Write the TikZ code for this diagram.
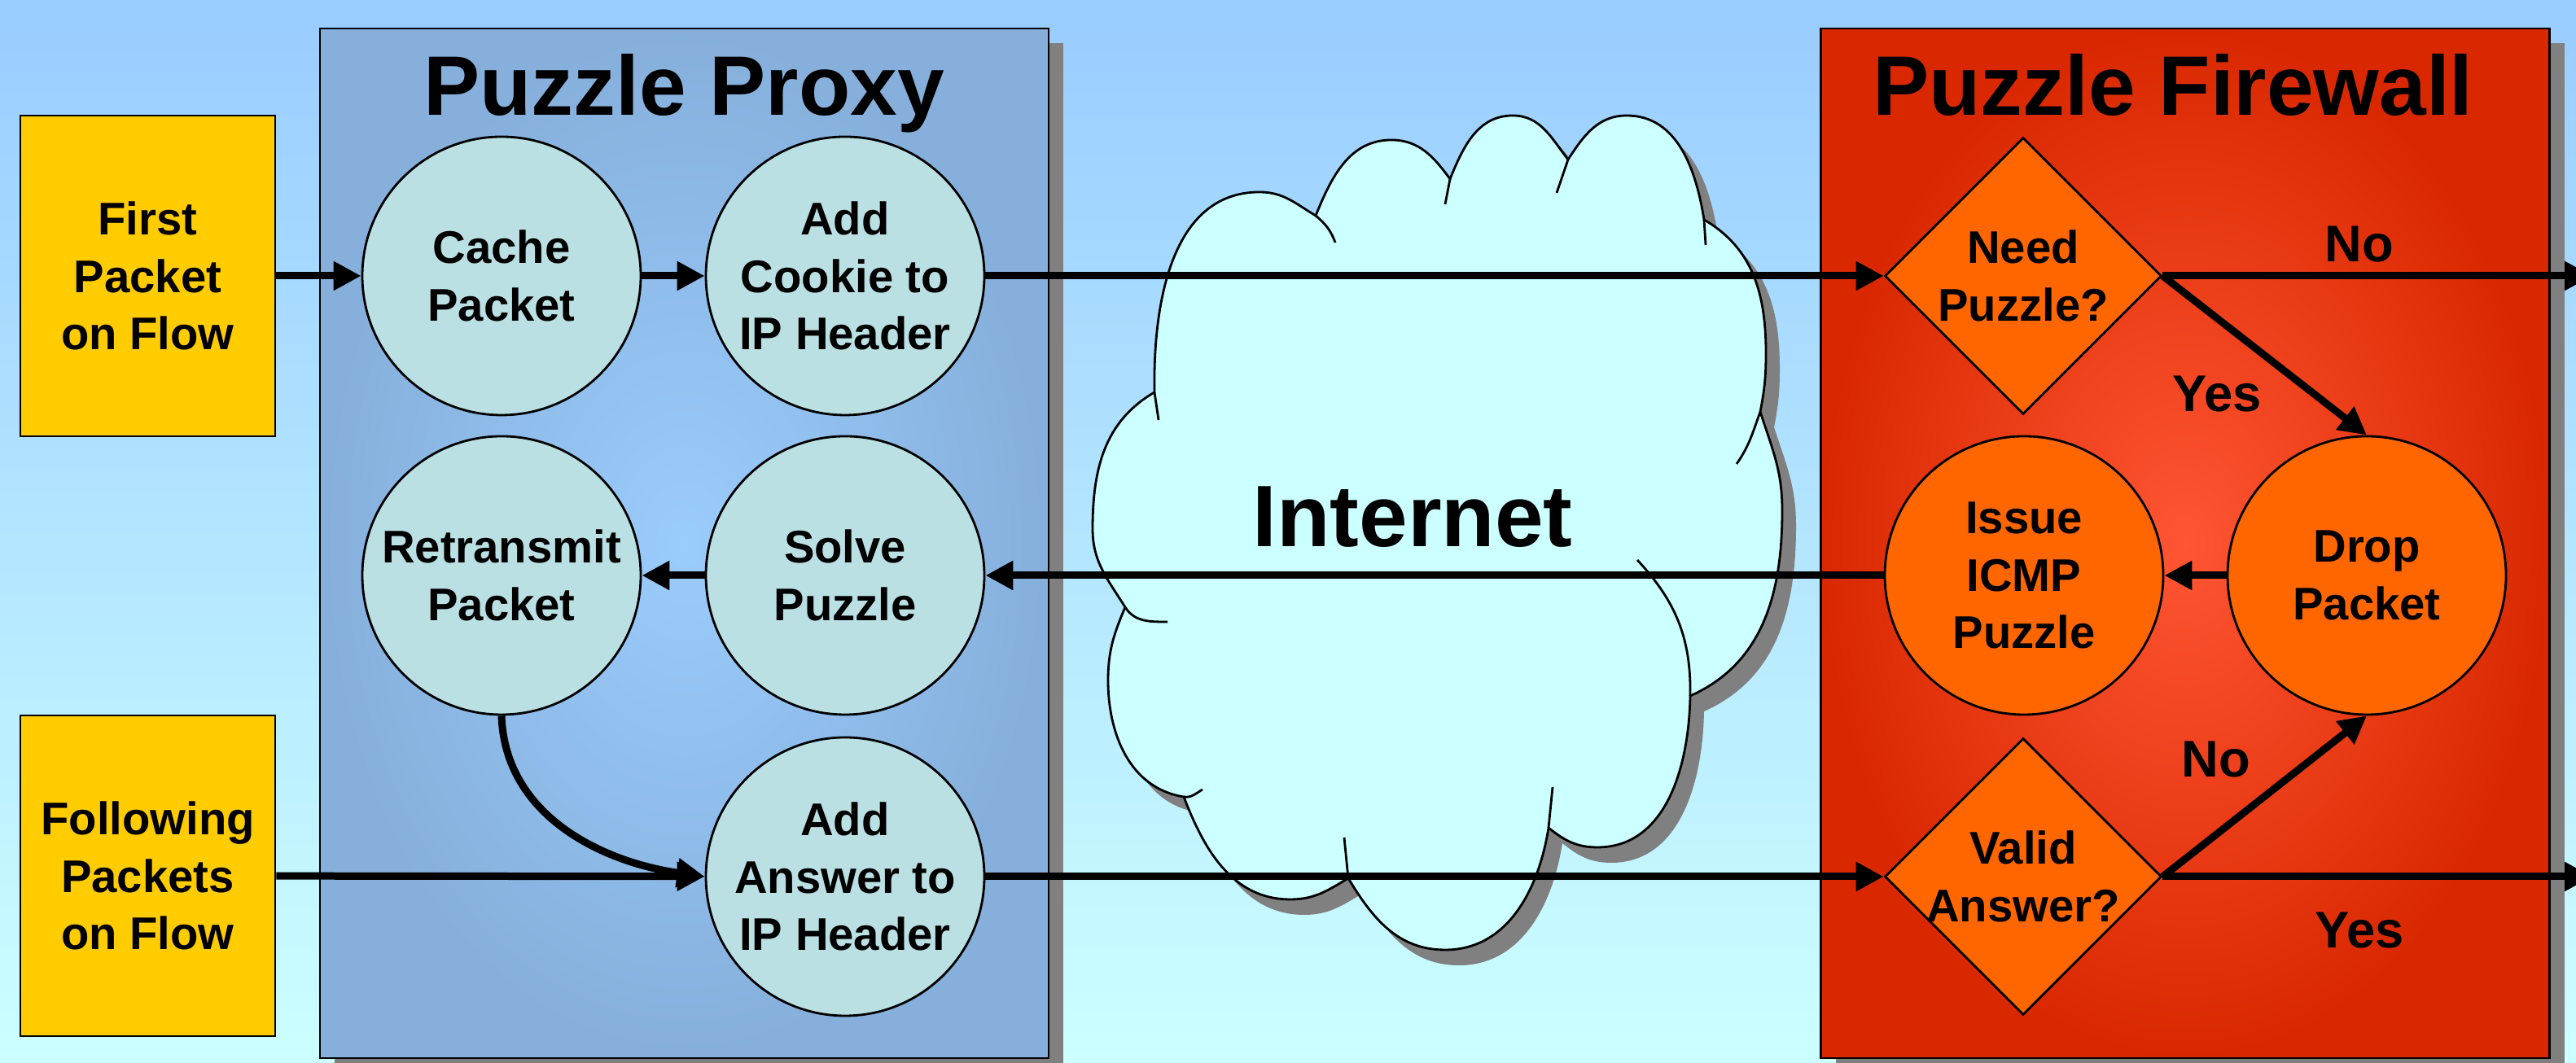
\documentclass[tikz,border=0pt]{standalone}
\usepackage{fontspec}
\setmainfont{Liberation Sans}
\usetikzlibrary{arrows.meta,shapes.geometric,shadows}

\definecolor{skytop}{HTML}{99CCFF}
\definecolor{skybottom}{HTML}{CCFFFF}
\definecolor{proxyedge}{HTML}{86AFDB}
\definecolor{proxycentre}{HTML}{9ACCFC}
\definecolor{walledge}{HTML}{D92800}
\definecolor{wallcentre}{HTML}{FF5533}
\definecolor{stepfill}{HTML}{BBE0E3}
\definecolor{checkfill}{HTML}{FF6600}
\definecolor{flowfill}{HTML}{FFCC00}
\definecolor{cloudfill}{HTML}{CCFFFF}
\definecolor{shadowgrey}{HTML}{808080}

% outline of the internet cloud, one bump after the other
\newcommand{\internetoutline}{(14.18,8.24)
  to[out=91,in=180] (15.47,10.70) to[out=0,in=149] (16.16,10.41)
  to[out=68,in=180] (17.09,11.34) to[out=0,in=126] (17.81,10.86)
  to[out=68,in=180] (18.58,11.64) to[out=0,in=128] (19.26,11.10)
  to[out=57,in=180] (19.98,11.64) to[out=0,in=99] (20.93,10.36)
  to[out=-30,in=90] (21.69,8.72) to[out=-90,in=79] (21.62,8.00)
  to[out=-72,in=90] (21.89,6.79) to[out=-90,in=24] (20.76,4.51)
  to[out=-91,in=0] (19.62,2.65) to[out=180,in=-39] (19.02,2.89)
  to[out=-99,in=0] (17.75,1.39) to[out=180,in=-59] (16.56,2.27)
  to[out=-149,in=0] (15.85,2.01) to[out=180,in=-69] (14.54,3.27)
  to[out=171,in=-90] (13.61,4.70) to[out=90,in=-113] (13.82,5.60)
  to[out=122,in=-90] (13.42,6.56) to[out=90,in=210] (14.18,8.24) -- cycle}

\tikzset{
  zone/.style={draw, line width=0.8pt, minimum width=8.95cm, minimum height=12.65cm,
    drop shadow={shadow xshift=0.18cm, shadow yshift=-0.18cm, fill=shadowgrey, opacity=1}},
  zonetitle/.style={anchor=base, font=\bfseries\fontsize{29.5}{35}\selectfont},
  stepfont/.style={align=center, font=\bfseries\fontsize{16}{20}\selectfont},
  flowbox/.style={stepfont, draw, line width=0.8pt, fill=flowfill, minimum width=3.13cm, minimum height=3.94cm},
  proxystep/.style={stepfont, circle, draw, line width=0.8pt, fill=stepfill, minimum size=3.42cm, inner sep=0pt},
  wallstep/.style={stepfont, circle, draw, line width=0.8pt, fill=checkfill, minimum size=3.42cm, inner sep=0pt},
  walltest/.style={diamond, draw, line width=0.8pt, fill=checkfill, minimum width=3.4cm, minimum height=3.4cm, inner sep=0pt},
  branchlabel/.style={font=\bfseries\fontsize{18}{22}\selectfont},
  flowline/.style={->, line width=0.09cm},
  cloudhint/.style={line width=0.8pt}
}

\begin{document}
\begin{tikzpicture}[>={Triangle[length=0.34cm,width=0.34cm]}]
\useasboundingbox (0,0) rectangle (31.64,13.06);
\shade[top color=skytop, bottom color=skybottom] (0,0) rectangle (31.64,13.06);

% the two boxes
\node[zone, inner color=proxycentre, outer color=proxyedge] (proxy) at (8.405,6.385) {};
\node[zone, inner color=wallcentre, outer color=walledge] (firewall) at (26.84,6.385) {};
\node[zonetitle] (proxytitle) at (8.40,11.64) {Puzzle Proxy};
\node[zonetitle] (firewalltitle) at (26.69,11.64) {Puzzle Firewall};

% internet
\fill[shadowgrey, shift={(0.17,-0.19)}] \internetoutline;
\filldraw[fill=cloudfill, line width=0.8pt] \internetoutline;
\draw[cloudhint] (14.18,8.24) -- (14.23,7.90);
\draw[cloudhint] (16.16,10.41) to[out=-40,in=110] (16.40,10.08);
\draw[cloudhint] (17.81,10.86) -- (17.75,10.55);
\draw[cloudhint] (19.26,11.10) -- (19.12,10.69);
\draw[cloudhint] (20.93,10.36) -- (20.95,10.05);
\draw[cloudhint] (21.62,8.00) to[out=-110,in=55] (21.33,7.36);
\draw[cloudhint] (20.76,4.51) to[out=89,in=-47] (20.11,6.18);
\draw[cloudhint] (19.02,2.89) -- (19.07,3.39);
\draw[cloudhint] (16.56,2.27) -- (16.51,2.77);
\draw[cloudhint] (14.54,3.27) to[out=-9,in=210] (14.77,3.36);
\draw[cloudhint] (13.82,5.60) to[out=-58,in=180] (14.34,5.42);
\node[font=\bfseries\fontsize{30.5}{36}\selectfont] (internet) at (17.35,6.71) {Internet};

% packets coming in
\node[flowbox] (firstpacket) at (1.815,9.67) {First\\Packet\\on Flow};
\node[flowbox] (followpackets) at (1.815,2.30) {Following\\Packets\\on Flow};

% proxy steps
\node[proxystep] (cache) at (6.16,9.67) {Cache\\Packet};
\node[proxystep] (cookie) at (10.38,9.67) {Add\\Cookie to\\IP Header};
\node[proxystep] (retransmit) at (6.16,5.99) {Retransmit\\Packet};
\node[proxystep] (solve) at (10.38,5.99) {Solve\\Puzzle};
\node[proxystep] (answer) at (10.38,2.29) {Add\\Answer to\\IP Header};

% firewall steps
\node[walltest] (needpuzzle) at (24.85,9.67) {};
\node[stepfont] (needtext) at (needpuzzle) {Need\\Puzzle?};
\node[wallstep] (issue) at (24.86,5.99) {Issue\\ICMP\\Puzzle};
\node[wallstep] (drop) at (29.07,5.99) {Drop\\Packet};
\node[walltest] (valid) at (24.85,2.29) {};
\node[stepfont] (validtext) at (valid) {Valid\\Answer?};
\coordinate (passtop) at (31.84,9.67);
\coordinate (passbottom) at (31.84,2.29);

% connectors
\draw[flowline] (firstpacket) -- (cache);
\draw[flowline] (cache) -- (cookie);
\draw[flowline] (cookie) -- (needpuzzle.west);
\draw[flowline] (needpuzzle.east) -- (passtop);
\draw[flowline] (needpuzzle.east) -- (drop.north);
\draw[flowline] (drop) -- (issue);
\draw[flowline] (issue) -- (solve);
\draw[flowline] (solve) -- (retransmit);
\draw[flowline] (retransmit.south) to[out=-88,in=172] (answer.west);
\draw[flowline] (followpackets) -- (answer);
\draw[flowline] (answer) -- (valid.west);
\draw[flowline] (valid.east) -- (drop.south);
\draw[flowline] (valid.east) -- (passbottom);

\node[branchlabel] (needno) at (28.98,10.06) {No};
\node[branchlabel] (needyes) at (27.23,8.22) {Yes};
\node[branchlabel] (validno) at (27.22,3.73) {No};
\node[branchlabel] (validyes) at (28.98,1.63) {Yes};
\end{tikzpicture}
\end{document}
